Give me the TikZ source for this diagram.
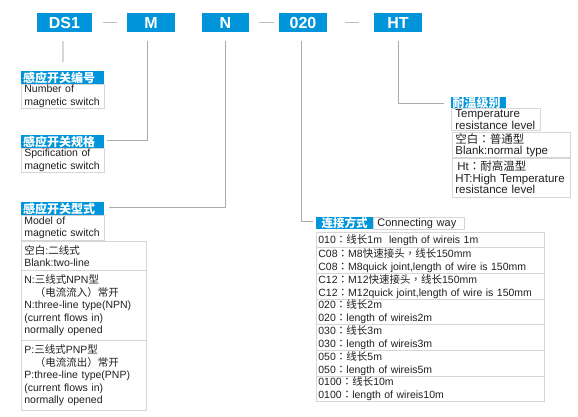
\documentclass[tikz,border=0pt]{standalone}
\usepackage{fontspec}
\setmainfont{Liberation Sans}
\newfontfamily\cjk{Noto Sans CJK SC}
\newfontfamily\cjkp{Noto Sans CJK TC}
\newcommand\zh[1]{{\cjk #1}}
\newcommand\cc{{\cjkp ：}}
\newcommand\cm{{\cjkp ，}}
\definecolor{hblue}{HTML}{0095DA}
\definecolor{bgray}{HTML}{D6D6D6}
\definecolor{lgray}{HTML}{ABABAB}
\definecolor{txt}{HTML}{231F20}
\begin{document}
\begin{tikzpicture}[x=1pt,y=-1pt,
  code/.style={fill=hblue,text=white,font=\fontsize{16}{16}\selectfont\bfseries,minimum height=19pt,inner sep=0pt},
  hdr/.style={fill=hblue,text=white,font=\fontsize{12}{12}\selectfont\cjk\bfseries,anchor=north west,minimum height=13pt,inner xsep=2pt,inner ysep=0pt,align=left},
  body/.style={draw=bgray,line width=0.8pt,text=txt,anchor=north west,font=\fontsize{10.5}{12.5}\selectfont,inner xsep=3pt,inner ysep=0pt,align=left},
  tbody/.style={body,inner xsep=4.5pt,font=\fontsize{11.5}{11.5}\selectfont},
  row/.style={body,font=\fontsize{10.5}{13}\selectfont,inner xsep=2pt,text width=224pt},
  conn/.style={draw=lgray,line width=0.9pt},
  sepline/.style={draw=lgray!80,line width=0.9pt}]
\fill[white] (0,0) rectangle (578,417);
\useasboundingbox (0,0) rectangle (578,417);
% code boxes
\node[code,minimum width=55pt] (ds1) at (64.5,22.5) {DS1};
\node[code,minimum width=48pt] (m) at (151,22.5) {M};
\node[code,minimum width=47pt] (n) at (225.5,22.5) {N};
\node[code,minimum width=48pt] (c020) at (303,22.5) {020};
\node[code,minimum width=48pt] (ht) at (398,22.5) {HT};
\draw[sepline,shorten <=11pt,shorten >=10pt] (ds1.east) -- (m.west);
\draw[sepline,shorten <=10pt,shorten >=5pt] (n.east) -- (c020.west);
\draw[sepline,shorten <=18pt,shorten >=15pt] (c020.east) -- (ht.west);
% left labels
\node[hdr,minimum width=83pt,text width=79pt] (h1) at (21,71) {感应开关编号};
\node[body,text width=77pt,minimum height=24pt] (b1) at (21,84) {Number of\\magnetic switch};
\node[hdr,minimum width=83pt,text width=79pt] (h2) at (21,135) {感应开关规格};
\node[body,text width=77pt,minimum height=24pt] (b2) at (21,148) {Spcification of\\magnetic switch};
\node[hdr,minimum width=83pt,text width=79pt] (h3) at (21,202) {感应开关型式};
\node[body,text width=77pt,minimum height=25pt] (b3) at (21,215) {Model of\\magnetic switch};
\node[body,text width=119pt,minimum height=29pt] (o1) at (21,241) {\zh{空白}:\zh{二线式}\\Blank:two-line};
\node[body,text width=119pt,minimum height=70pt] (o2) at (21,270) {N:\zh{三线式}NPN\zh{型}\\\hspace*{10.5pt}\zh{（电流流入）常开}\\N:three-line type(NPN)\\(current flows in)\\normally opened};
\node[body,text width=119pt,minimum height=70pt] (o3) at (21,340) {P:\zh{三线式}PNP\zh{型}\\\hspace*{10.5pt}\zh{（电流流出）常开}\\P:three-line type(PNP)\\(current flows in)\\normally opened};
% temperature
\node[hdr,minimum width=55pt,text width=51pt,minimum height=11.5pt] (hthdr) at (450.5,97) {耐温级别};
\node[tbody,text width=80pt,minimum height=22pt,font=\fontsize{11.5}{10.5}\selectfont] (htb) at (450.5,108.5) {Temperature\\resistance level};
\node[tbody,text width=111pt,minimum height=25pt,inner xsep=3.5pt,font=\fontsize{11.5}{11}\selectfont] (t1) at (451.5,132) {\zh{空白}\cc\zh{普通型}\\Blank:normal type};
\node[tbody,text width=111pt,minimum height=39pt,inner xsep=3.5pt,font=\fontsize{11.5}{11.8}\selectfont] (t2) at (451.5,157.5) {\hspace*{2pt}Ht\cc\zh{耐高温型}\\HT:High Temperature\\resistance level};
% connecting
\node[hdr,minimum width=57pt,text width=57pt,inner xsep=0pt,align=center,minimum height=12pt,font=\fontsize{11.5}{11.5}\selectfont\cjk\bfseries] (connhdr) at (316,217) {连接方式};
\node[body,minimum width=91pt,minimum height=12pt,inner xsep=4pt,font=\fontsize{11}{11}\selectfont,anchor=north west,text width=83pt] (connway) at (373,217) {Connecting way};
\node[row,minimum height=15pt] (r1) at (316,232) {010\cc\zh{线长}1m\ \ length of wireis 1m};
\node[row,minimum height=26pt] (r2) at (316,247) {C08\cc M8\zh{快速接头}\cm\zh{线长}150mm\\C08\cc M8quick joint,length of wire is 150mm};
\node[row,minimum height=26pt] (r3) at (316,273) {C12\cc M12\zh{快速接头}\cm\zh{线长}150mm\\C12\cc M12quick joint,length of wire is 150mm};
\node[row,minimum height=25pt] (r4) at (316,299) {020\cc\zh{线长}2m\\020\cc length of wireis2m};
\node[row,minimum height=26pt] (r5) at (316,324) {030\cc\zh{线长}3m\\030\cc length of wireis3m};
\node[row,minimum height=26pt] (r6) at (316,350) {050\cc\zh{线长}5m\\050\cc length of wireis5m};
\node[row,minimum height=25pt] (r7) at (316,376) {0100\cc\zh{线长}10m\\0100\cc length of wireis10m};
% connectors
\coordinate (ds1b) at ([xshift=-1.5pt]ds1.south);
\draw[conn,draw=bgray,line width=1.2pt,shorten <=9pt,shorten >=9pt] (ds1b) -- (ds1b |- h1.north);
\draw[conn,shorten <=9pt] ([xshift=-4pt]m.south) |- ([xshift=3pt,yshift=1.5pt]h2.east);
\draw[conn,shorten <=9pt] (n.south) |- ([xshift=5pt,yshift=1.5pt]h3.east);
\draw[conn,shorten <=9pt] ([xshift=-1.5pt]c020.south) |- ([xshift=-3pt,yshift=2pt]connhdr.west);
\draw[conn,shorten <=9pt] (ht.south) |- ([xshift=-7pt]hthdr.west);
\end{tikzpicture}
\end{document}
